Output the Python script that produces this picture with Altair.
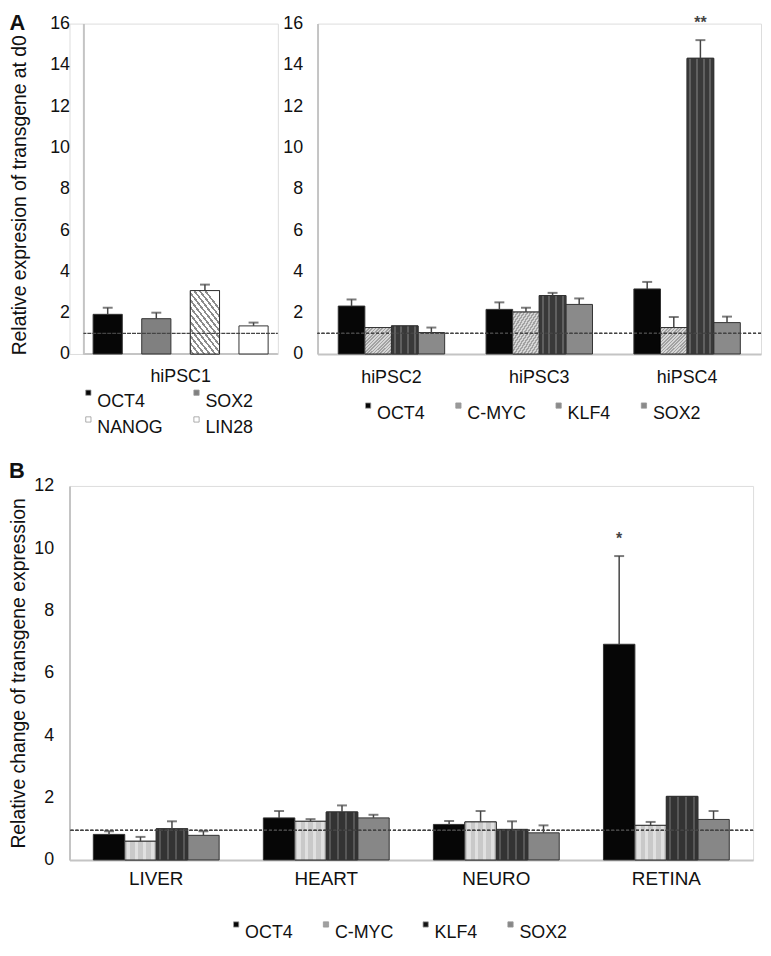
import altair as alt
import pandas as pd

FONT = "Liberation Sans"

# ---------------- Panel A, left (hiPSC1) ----------------
a1_cells = ["hiPSC1"]
a1_genes = ["OCT4", "SOX2", "NANOG", "LIN28"]
a1_values = [[1.92], [1.71], [3.07], [1.36]]
a1_errors = [[0.32], [0.29], [0.29], [0.16]]
a1_colors = ["#060606", "#808080", "#ffffff", "#ffffff"]

# ---------------- Panel A, right (hiPSC2-4) ----------------
a2_cells = ["hiPSC2", "hiPSC3", "hiPSC4"]
a2_genes = ["OCT4", "C-MYC", "KLF4", "SOX2"]
a2_oct4 = [2.32, 2.16, 3.15]
a2_oct4_err = [0.32, 0.34, 0.34]
a2_cmyc = [1.28, 2.03, 1.28]
a2_cmyc_err = [0.0, 0.21, 0.51]
a2_klf4 = [1.36, 2.83, 14.32]
a2_klf4_err = [0.0, 0.13, 0.88]
a2_sox2 = [1.04, 2.40, 1.52]
a2_sox2_err = [0.24, 0.29, 0.29]
a2_colors = ["#060606", "#9a9a9a", "#8a8a8a", "#8a8a8a"]
a2_sig_cell = ["hiPSC4"]
a2_sig_gene = ["KLF4"]
a2_sig_text = ["**"]

# ---------------- Panel B (tissues) ----------------
b_cells = ["LIVER", "HEART", "NEURO", "RETINA"]
b_genes = ["OCT4", "C-MYC", "KLF4", "SOX2"]
b_oct4 = [0.82, 1.35, 1.14, 6.92]
b_oct4_err = [0.10, 0.22, 0.11, 2.83]
b_cmyc = [0.60, 1.24, 1.22, 1.11]
b_cmyc_err = [0.14, 0.07, 0.35, 0.11]
b_klf4 = [1.00, 1.54, 0.98, 2.04]
b_klf4_err = [0.24, 0.21, 0.26, 0.0]
b_sox2 = [0.79, 1.35, 0.87, 1.30]
b_sox2_err = [0.13, 0.10, 0.24, 0.27]
b_colors = ["#060606", "#a0a0a0", "#151515", "#878787"]
b_sig_cell = ["RETINA"]
b_sig_gene = ["OCT4"]
b_sig_text = ["*"]

baseline_a = [1.0]
baseline_b = [0.95]


def long_df(cells, genes, series, errs):
    rows = []
    for g, vals, es in zip(genes, series, errs):
        for c, v, e in zip(cells, vals, es):
            rows.append({"cell": c, "gene": g, "value": v, "err": e, "upper": v + e})
    return pd.DataFrame(rows)


def sig_df(df, cells, genes, texts):
    rows = []
    for c, g, t in zip(cells, genes, texts):
        up = float(df[(df.cell == c) & (df.gene == g)].upper.iloc[0])
        rows.append({"cell": c, "gene": g, "text": t, "upper": up})
    return pd.DataFrame(rows)


def stripes(base, line, n, frac, x1=0, y1=0, x2=1, y2=0):
    pts = [(base, 0.0)]
    for i in range(n):
        a = (i + 0.5) / n - frac / (2 * n)
        b = (i + 0.5) / n + frac / (2 * n)
        a, b = max(0.0, a), min(1.0, b)
        pts += [(base, a), (line, a), (line, b), (base, b)]
    pts.append((base, 1.0))
    stops = [alt.GradientStop(color=c, offset=round(o, 4)) for c, o in pts]
    return alt.LinearGradient(gradient="linear", stops=stops, x1=x1, y1=y1, x2=x2, y2=y2)


def panel(df, cells, genes, colors, patterns, width, height, ymax, xscale, offpad,
          ytitle, ytitle_pad, ylabel_pad, xlabel_pad, xlabel_size, legend, baseline, sig=None,
          yoffset=0, band_lines=False, title_shift=0):
    xenc = alt.X("cell:N", sort=cells, scale=alt.Scale(domain=cells, **xscale),
                 axis=alt.Axis(title=None, labelAngle=0, ticks=False, domain=not band_lines,
                               domainColor="#c4c4c4", domainWidth=2, labelFontSize=xlabel_size,
                               labelPadding=xlabel_pad, labelColor="#111", labelFont=FONT))
    xoenc = alt.XOffset("gene:N", sort=genes,
                        scale=alt.Scale(domain=genes, paddingInner=offpad[0], paddingOuter=offpad[1]))

    axis_kw = dict(values=list(range(0, ymax + 1, 2)), title=ytitle, grid=False,
                   ticks=False, domainColor="#c4c4c4", domainWidth=2,
                   labelFontSize=18, labelPadding=ylabel_pad, labelColor="#111",
                   labelFont=FONT, titleFont=FONT, titleFontSize=19.5,
                   titleFontWeight="normal", titleColor="#111",
                   titlePadding=ytitle_pad, offset=yoffset)
    if title_shift:
        axis_kw["titleY"] = height / 2 + title_shift

    def yenc(field):
        return alt.Y(field, scale=alt.Scale(domain=[0, ymax], nice=False),
                     axis=alt.Axis(**axis_kw))

    base = alt.Chart(df)
    ref_df = pd.DataFrame([{"cell": c, "ref": r, "zero": 0.0} for c in cells for r in baseline])
    layers = []
    if band_lines:
        # x baseline drawn only across the category band
        layers.append(alt.Chart(ref_df).mark_bar(fillOpacity=0, stroke="#c4c4c4", strokeWidth=2)
                      .encode(x=xenc, y=yenc("zero:Q"), y2="zero:Q"))
    layers.append(
        base.mark_bar(stroke="#333333", strokeWidth=1).encode(
            x=xenc, xOffset=xoenc, y=yenc("value:Q"),
            color=alt.Color("gene:N", sort=genes,
                            scale=alt.Scale(domain=genes, range=colors), legend=legend)))
    for g, grad in patterns.items():
        layers.append(
            base.transform_filter(alt.datum.gene == g)
            .mark_bar(fill=grad, stroke="#333333", strokeWidth=1)
            .encode(x=xenc, xOffset=xoenc, y=yenc("value:Q")))
    err = base.transform_filter(alt.datum.err > 0)
    layers.append(err.mark_rule(color="#444444", strokeWidth=1.5).encode(
        x=xenc, xOffset=xoenc, y=yenc("value:Q"), y2="upper:Q"))
    layers.append(err.mark_tick(color="#444444", thickness=2, size=10, orient="horizontal").encode(
        x=xenc, xOffset=xoenc, y=yenc("upper:Q")))
    if band_lines:
        layers.append(alt.Chart(ref_df).mark_bar(
            fillOpacity=0, stroke="#444444", strokeDash=[3, 2], strokeWidth=1.3
        ).encode(x=xenc, y=yenc("ref:Q"), y2="ref:Q"))
    else:
        layers.append(alt.Chart(ref_df).mark_rule(
            color="#444444", strokeDash=[3, 2], strokeWidth=1.3).encode(y=yenc("ref:Q")))
    if sig is not None:
        layers.append(alt.Chart(sig).mark_text(
            baseline="middle", dy=-17, fontSize=16, fontWeight="bold", color="#444444", font=FONT
        ).encode(x=xenc, xOffset=xoenc, y=yenc("upper:Q"), text="text:N"))
    return alt.layer(*layers).properties(width=width, height=height)


def make_legend(x, y, columns, colpad, rowpad=7):
    return alt.Legend(title=None, orient="none", legendX=x, legendY=y, direction="horizontal",
                      columns=columns, columnPadding=colpad, rowPadding=rowpad,
                      symbolType="square", symbolSize=28, symbolStrokeColor="#999999",
                      symbolStrokeWidth=0.8, symbolOffset=4, labelFontSize=18, labelFont=FONT,
                      labelColor="#111", labelBaseline="top", labelOffset=0, padding=0,
                      labelLimit=200)


df_a1 = long_df(a1_cells, a1_genes, a1_values, a1_errors)
df_a2 = long_df(a2_cells, a2_genes, [a2_oct4, a2_cmyc, a2_klf4, a2_sox2],
                [a2_oct4_err, a2_cmyc_err, a2_klf4_err, a2_sox2_err])
df_b = long_df(b_cells, b_genes, [b_oct4, b_cmyc, b_klf4, b_sox2],
               [b_oct4_err, b_cmyc_err, b_klf4_err, b_sox2_err])

left = panel(df_a1, a1_cells, a1_genes, a1_colors,
             {"NANOG": stripes("#ffffff", "#8c8c8c", 12, 0.4, x1=0, y1=1, x2=0.6, y2=0)},
             210, 333, 16, {"paddingInner": 0, "paddingOuter": 0.0357, "align": 1}, (0.4, 0.2),
             "Relative expresion of transgene at d0", 20, 14, 14, 18,
             make_legend(6, 363, 2, 20, 0), baseline_a, yoffset=-14, band_lines=True,
             title_shift=6)

right = panel(df_a2, a2_cells, a2_genes, a2_colors,
              {"C-MYC": stripes("#d6d6d6", "#a2a2a2", 16, 0.5, x2=1, y2=1),
               "KLF4": stripes("#393939", "#606060", 4, 0.3)},
              447, 333, 16, {"paddingInner": 0.28, "paddingOuter": 0.14}, (0, 0),
              None, 0, 15, 15, 18,
              make_legend(38, 376, 4, 20), baseline_a,
              sig_df(df_a2, a2_sig_cell, a2_sig_gene, a2_sig_text))

bottom = panel(df_b, b_cells, b_genes, b_colors,
               {"C-MYC": stripes("#c9c9c9", "#e0e0e0", 4, 0.45),
                "KLF4": stripes("#333333", "#575757", 4, 0.3)},
               689, 377, 12, {"paddingInner": 0.26, "paddingOuter": 0.14}, (0, 0),
               "Relative change of transgene expression", 5, 16, 10, 19,
               make_legend(155, 433, 4, 19.5), baseline_b,
               sig_df(df_b, b_sig_cell, b_sig_gene, b_sig_text))

top = alt.hconcat(left, right, spacing=2).resolve_scale(
    color="independent", x="independent", y="independent", xOffset="independent"
).properties(title=alt.TitleParams("A", anchor="start", fontSize=22, fontWeight="bold",
                                   font=FONT, color="#111", offset=-21))

bottom = bottom.properties(title=alt.TitleParams("B", anchor="start", fontSize=22, fontWeight="bold",
                                                 font=FONT, color="#111", offset=-6))

chart = alt.concat(top, bottom, columns=1, spacing=21).resolve_scale(
    color="independent", x="independent", y="independent", xOffset="independent"
).properties(padding=0).configure_view(stroke=None).configure(font=FONT, background="white")

chart.save("out.html", embed_options={"renderer": "svg", "actions": False})
